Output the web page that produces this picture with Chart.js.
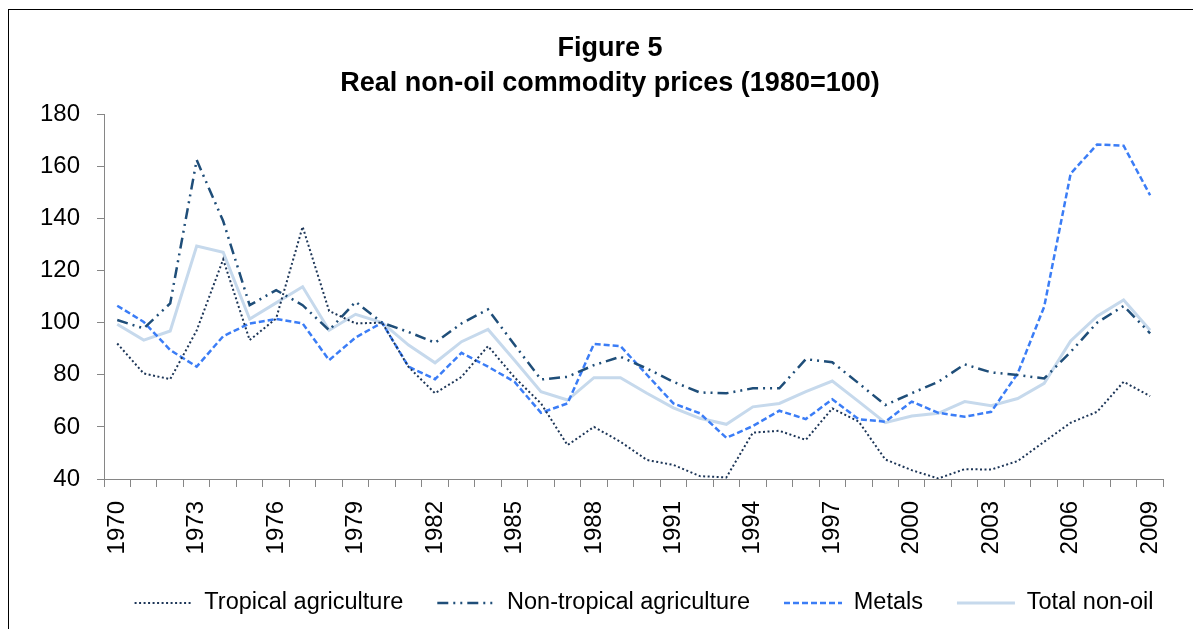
<!DOCTYPE html>
<html>
<head>
<meta charset="utf-8">
<script src="https://cdn.jsdelivr.net/npm/chart.js@4.4.1/dist/chart.umd.min.js"></script>
<style>
  html, body { margin: 0; padding: 0; background: #fff; }
  #wrap { position: relative; width: 1193px; height: 629px; overflow: hidden; }
  #frame { position: absolute; left: 8px; top: 9px; width: 1200px; height: 640px; border: 1.5px solid #000; pointer-events: none; }
</style>
</head>
<body>
<div id="wrap">
  <canvas id="chart" width="1193" height="629"></canvas>
  <div id="frame"></div>
</div>
<script>
// Data
const years = ['1970', '1971', '1972', '1973', '1974', '1975', '1976', '1977', '1978', '1979',
  '1980', '1981', '1982', '1983', '1984', '1985', '1986', '1987', '1988', '1989',
  '1990', '1991', '1992', '1993', '1994', '1995', '1996', '1997', '1998', '1999',
  '2000', '2001', '2002', '2003', '2004', '2005', '2006', '2007', '2008', '2009'];

const tropical = [92, 80.5, 78.3, 97, 124.3, 93.3, 101.6, 136.8, 104.5, 99.7,
  100, 83, 72.9, 79.2, 91, 79, 69, 53, 60, 54.3,
  47.3, 45.4, 41.1, 40.6, 57.8, 58.5, 55, 67.1, 62, 47.5,
  43.4, 40.2, 43.8, 43.6, 46.9, 54.3, 61.6, 65.8, 77.3, 71.8];

const nonTropical = [101, 97.8, 107.4, 162.4, 139, 106.7, 112.5, 106.7, 97.1, 108,
  100, 96.4, 92.3, 99.7, 105.1, 91.5, 78.2, 79.2, 83.7, 86.9,
  82.4, 77.3, 73.2, 72.9, 74.8, 74.8, 86, 84.8, 76.7, 68.4,
  72.9, 77.3, 84, 80.9, 79.9, 78.6, 88.8, 100, 106.4, 95.9];

const metals = [106.5, 100.3, 89.5, 83.1, 94.8, 99.7, 101.4, 99.7, 85.6, 94.3,
  100, 83.1, 78.3, 88.4, 83.1, 77.3, 65.4, 69, 91.8, 91,
  80, 69, 65.2, 55.8, 60.3, 66.2, 63, 70.6, 62.9, 62,
  69.7, 65.4, 63.9, 65.8, 80.5, 106.1, 157.2, 168.4, 167.9, 148.9];

const totalNonOil = [99.4, 93.3, 96.8, 129.4, 127, 101.4, 107.6, 113.8, 97.1, 103.2,
  100, 91.4, 84.6, 92.7, 97.4, 85.6, 73.5, 70.3, 78.9, 78.9,
  72.9, 67.3, 63.3, 61, 67.7, 69, 73.5, 77.6, 69.7, 61.6,
  64.2, 65.2, 69.7, 68.1, 70.9, 76.7, 93, 102.5, 108.7, 97.1];

const FONT = "'Liberation Sans', Arial, sans-serif";
const axisGrey = '#868686';

// legend sits centred under the plot, the title a bit further left
const legendShift = {
  id: 'legendShift',
  afterLayout(c) {
    c.legend.left += 34;
    c.legend.right += 34;
  }
};

const chart = new Chart(document.getElementById('chart'), {
  type: 'line',
  data: {
    labels: years,
    datasets: [
      { label: 'Tropical agriculture', data: tropical, borderColor: '#1c3557', borderWidth: 2, borderDash: [2, 2.5] },
      { label: 'Non-tropical agriculture', data: nonTropical, borderColor: '#1f4e79', borderWidth: 2.5, borderDash: [11, 5, 2, 5, 2, 5] },
      { label: 'Metals', data: metals, borderColor: '#3b7df6', borderWidth: 2.5, borderDash: [6, 3] },
      { label: 'Total non-oil', data: totalNonOil, borderColor: '#c6d9ec', borderWidth: 3 }
    ]
  },
  options: {
    responsive: false,
    animation: false,
    layout: { padding: { left: 34.5, right: 7.5, top: 30.5, bottom: 4.25 } },
    elements: { point: { radius: 0 }, line: { tension: 0, fill: false } },
    plugins: {
      title: {
        display: true,
        text: ['Figure 5', 'Real non-oil commodity prices (1980=100)'],
        color: '#000',
        font: { family: FONT, size: 27, weight: 'bold', lineHeight: 1.3 },
        padding: { top: 0, bottom: 13.5 }
      },
      legend: {
        position: 'bottom',
        labels: {
          usePointStyle: true,
          pointStyleWidth: 58,
          padding: 34,
          color: '#000',
          font: { family: FONT, size: 23.5 },
          generateLabels: (c) => c.data.datasets.map((ds, i) => ({
            text: ds.label,
            strokeStyle: ds.borderColor,
            fillStyle: ds.borderColor,
            lineWidth: ds.borderWidth,
            lineDash: ds.borderDash || [],
            pointStyle: 'line',
            fontColor: '#000',
            hidden: false,
            datasetIndex: i
          }))
        }
      },
      tooltip: { enabled: false }
    },
    scales: {
      x: {
        offset: true,
        grid: { offset: true, drawOnChartArea: false, tickLength: 8, color: axisGrey },
        border: { color: axisGrey, width: 1 },
        ticks: {
          autoSkip: false,
          minRotation: 90,
          maxRotation: 90,
          padding: 14,
          color: '#000',
          font: { family: FONT, size: 24 },
          callback: function (v, i) { return i % 3 === 0 ? this.getLabelForValue(v) : ''; }
        },
        afterFit: (s) => { s.height = 78.25; }
      },
      y: {
        min: 40,
        max: 180,
        grid: { drawOnChartArea: false, tickLength: 7, color: axisGrey },
        border: { color: axisGrey, width: 1 },
        ticks: { stepSize: 20, padding: 17, color: '#000', font: { family: FONT, size: 24 } },
        afterFit: (s) => { s.width = 69.5; }
      }
    }
  },
  plugins: [legendShift]
});
</script>
</body>
</html>
